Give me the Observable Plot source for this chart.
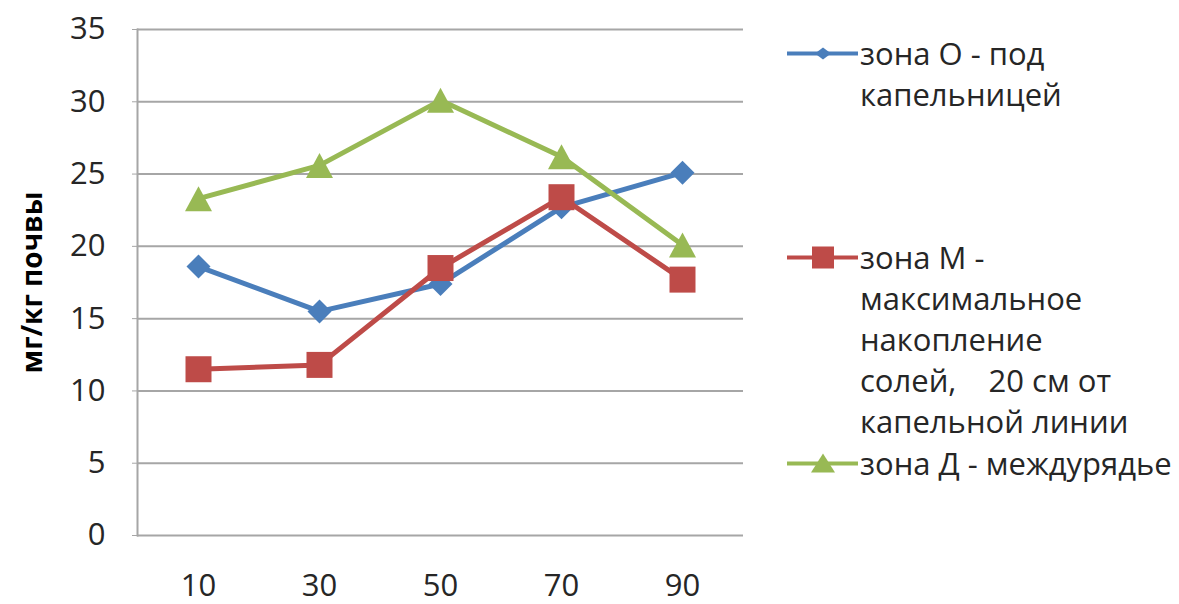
<!DOCTYPE html>
<html>
<head>
<meta charset="utf-8">
<script src="https://cdn.jsdelivr.net/npm/d3@7"></script>
<script src="https://cdn.jsdelivr.net/npm/@observablehq/plot@0.6"></script>
<style>
  html, body { margin: 0; padding: 0; background: #fff; }
  #chart { position: relative; width: 1179px; height: 604px; font-family: "Open Sans", sans-serif; }
  #chart svg { display: block; }
  .legend-entry { position: absolute; left: 785px; }
  .legend-row { display: flex; align-items: center; height: 41px; }
  .legend-text { font-size: 31px; color: #262626; white-space: pre; line-height: 41px; }
  .legend-swatch { width: 75px; height: 41px; flex: none; }
</style>
</head>
<body>
<div id="chart"></div>
<script>
// Depth of sampling, cm
const depths = [10, 30, 50, 70, 90];
// Salt content, mg per kg of soil
const zoneO = [18.6, 15.5, 17.4, 22.7, 25.1];
const zoneM = [11.5, 11.8, 18.5, 23.4, 17.7];
const zoneD = [23.3, 25.6, 30.1, 26.2, 20.1];
const yTicks = [0, 5, 10, 15, 20, 25, 30, 35];
const zoneNames = ["зона О", "зона М", "зона Д"];
const legendLines = [
  ["зона О - под", "капельницей"],
  ["зона М -", "максимальное", "накопление", "солей,    20 см от", "капельной линии"],
  ["зона Д - междурядье"]
];
const colors = ["#4a7ebb", "#be4b48", "#98b954"];

// Marker shapes: rotated square, square, triangle
const diamond = {draw(ctx) { const h = 12; ctx.moveTo(0, -h); ctx.lineTo(h, 0); ctx.lineTo(0, h); ctx.lineTo(-h, 0); ctx.closePath(); }};
const square = {draw(ctx) { const h = 13; ctx.rect(-h, -h, 2 * h, 2 * h); }};
const triangle = {draw(ctx) { const w = 13.5, h = 12.5; ctx.moveTo(0, -h); ctx.lineTo(w, h); ctx.lineTo(-w, h); ctx.closePath(); }};
const symbols = [diamond, square, triangle];

const seriesValues = [zoneO, zoneM, zoneD];
const rows = seriesValues.flatMap((vals, i) => depths.map((d, j) => ({depth: d, value: vals[j], zone: zoneNames[i]})));

const seriesMarks = zoneNames.flatMap((z, i) => {
  const sub = rows.filter(r => r.zone === z);
  return [
    Plot.line(sub, {x: "depth", y: "value", stroke: colors[i], strokeWidth: 5}),
    Plot.dot(sub, {x: "depth", y: "value", symbol: () => symbols[i], fill: colors[i], stroke: "none"})
  ];
});

const plot = Plot.plot({
  width: 1179,
  height: 604,
  marginLeft: 137,
  marginRight: 436,
  marginTop: 29,
  marginBottom: 69,
  style: {fontFamily: "Open Sans, sans-serif", fontSize: "31px", color: "#262626", background: "#fff"},
  x: {type: "point", domain: depths, padding: 0.5},
  y: {domain: [0, 35]},
  symbol: {type: "identity"},
  marks: [
    Plot.gridY(yTicks, {stroke: "#a6a6a6", strokeOpacity: 1, strokeWidth: 2}),
    Plot.frame({anchor: "left", stroke: "#a6a6a6", strokeWidth: 2}),
    Plot.axisY(yTicks, {tickSize: 5, stroke: "#a6a6a6", tickPadding: 27, label: null, fontSize: 31, fill: "#262626"}),
    Plot.axisX(depths, {tickSize: 0, tickPadding: 38, label: null, fontSize: 31, fill: "#262626"}),
    Plot.text(["мг/кг почвы"], {frameAnchor: "left", textAnchor: "middle", dx: -104, rotate: -90, fontWeight: "bold", fontSize: 28, fill: "#000"}),
    ...seriesMarks
  ]
});

const chart = document.getElementById("chart");
chart.appendChild(plot);

// Legend on the right
const legendTops = [33, 237, 443];
const swatchSymbols = [
  '<path d="M38 14.5 L46 20.5 L38 26.5 L30 20.5 Z"/>',
  '<rect x="27" y="9.5" width="22" height="22"/>',
  '<path d="M38 10.5 L50 29.5 L26 29.5 Z"/>'
];
legendLines.forEach((lines, i) => {
  const entry = d3.select(chart).append("div").attr("class", "legend-entry").style("top", legendTops[i] + "px");
  lines.forEach((t, k) => {
    const row = entry.append("div").attr("class", "legend-row");
    const sw = row.append("svg").attr("class", "legend-swatch").attr("width", 75).attr("height", 41);
    if (k === 0) {
      sw.append("line").attr("x1", 2).attr("x2", 73).attr("y1", 20.5).attr("y2", 20.5)
        .attr("stroke", colors[i]).attr("stroke-width", 4);
      sw.append("g").attr("fill", colors[i]).html(swatchSymbols[i]);
    }
    row.append("span").attr("class", "legend-text").text(t);
  });
});
</script>
</body>
</html>
